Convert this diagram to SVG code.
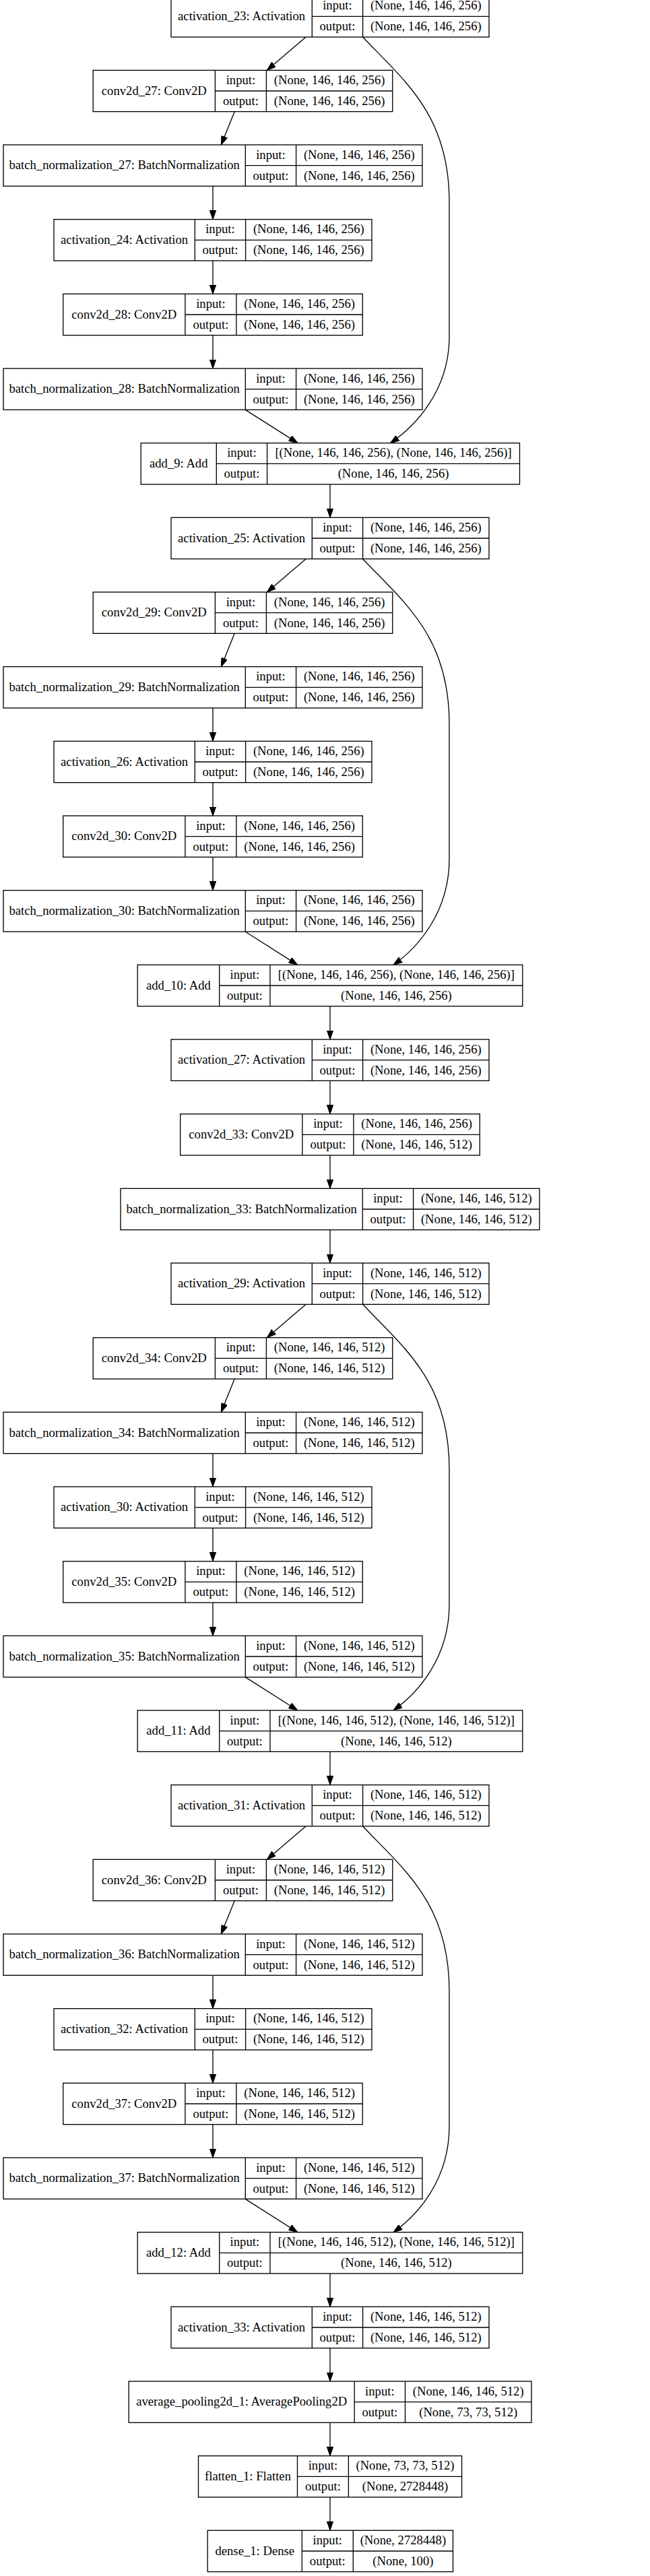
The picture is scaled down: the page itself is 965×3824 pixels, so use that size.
<svg xmlns="http://www.w3.org/2000/svg" width="965" height="3824" viewBox="0 0 965 3824">
<defs>
<style>
.f{fill:#fff;stroke:#000;stroke-width:1.33}
.d{fill:none;stroke:#000;stroke-width:1.33}
.e{fill:none;stroke:#000;stroke-width:1.33;marker-end:url(#ah)}
text{font-family:"Liberation Serif","Times New Roman",serif;font-size:18.67px;text-anchor:middle;fill:#000}
</style>
<marker id="ah" markerUnits="userSpaceOnUse" viewBox="0 0 13.33 9.33" markerWidth="13.33" markerHeight="9.33" refX="13.33" refY="4.67" orient="auto"><path d="M0,0 L13.33,4.67 L0,9.33 z" fill="#000" stroke="#000" stroke-width="1"/></marker>
</defs>
<rect x="0" y="0" width="965" height="3824" fill="#fff"/>

<g id="edges">
<path class="e" d="M454.1,55L396.4,104.33"/>
<path class="e" d="M348.2,165.67L328.3,215"/>
<path class="e" d="M316,276.33V325.67"/>
<path class="e" d="M316,387V436.33"/>
<path class="e" d="M316,497.67V547"/>
<path class="e" d="M364.3,608.33L442,657.67"/>
<path class="e" d="M538.6,55C600,120 667,170 667,300L667,500C667,580 616,633 579.5,657.67"/>
<path class="e" d="M490,719V768.33"/>
<path class="e" d="M454.1,829.67L396.4,879"/>
<path class="e" d="M348.2,940.33L328.3,989.67"/>
<path class="e" d="M316,1051V1100.33"/>
<path class="e" d="M316,1161.67V1211"/>
<path class="e" d="M316,1272.33V1321.67"/>
<path class="e" d="M364.2,1383L441.8,1432.33"/>
<path class="e" d="M538.6,829.67C600,894.67 667,944.67 667,1074.67L667,1274.67C667,1354.67 620,1407 584,1432.33"/>
<path class="e" d="M490,1493.67V1543"/>
<path class="e" d="M490,1604.33V1653.67"/>
<path class="e" d="M490,1715V1764.33"/>
<path class="e" d="M490,1825.67V1875"/>
<path class="e" d="M454.1,1936.33L396.4,1985.67"/>
<path class="e" d="M348.2,2047L328.3,2096.33"/>
<path class="e" d="M316,2157.67V2207"/>
<path class="e" d="M316,2268.33V2317.67"/>
<path class="e" d="M316,2379V2428.33"/>
<path class="e" d="M364.2,2489.67L441.8,2539"/>
<path class="e" d="M538.6,1936.33C600,2001.33 667,2051.33 667,2181.33L667,2381.33C667,2461.33 620,2513.67 584,2539"/>
<path class="e" d="M490,2600.33V2649.67"/>
<path class="e" d="M454.1,2711L396.4,2760.33"/>
<path class="e" d="M348.2,2821.67L328.3,2871"/>
<path class="e" d="M316,2932.33V2981.67"/>
<path class="e" d="M316,3043V3092.33"/>
<path class="e" d="M316,3153.67V3203"/>
<path class="e" d="M364.2,3264.33L441.8,3313.67"/>
<path class="e" d="M538.6,2711C600,2776 667,2826 667,2956L667,3156C667,3236 620,3288.33 584,3313.67"/>
<path class="e" d="M490,3375V3424.33"/>
<path class="e" d="M490,3485.67V3535"/>
<path class="e" d="M490,3596.33V3645.67"/>
<path class="e" d="M490,3707V3756.33"/>
</g>

<g id="activation_23" transform="translate(0,-6.33)">
<rect class="f" x="254" y="0" width="472" height="61.33"/><path class="d" d="M463.3,0V61.33M538.6,0V61.33M463.3,30.67H726"/>
<text x="358.65" y="36.2">activation_23: Activation</text><text x="500.95" y="20.8">input:</text><text x="500.95" y="51.5">output:</text>
<text x="632.3" y="20.8">(None, 146, 146, 256)</text><text x="632.3" y="51.5">(None, 146, 146, 256)</text>
</g>
<g id="conv2d_27" transform="translate(0,104.33)">
<rect class="f" x="138.2" y="0" width="444.6" height="61.33"/><path class="d" d="M319.4,0V61.33M395.4,0V61.33M319.4,30.67H582.8"/>
<text x="228.8" y="36.2">conv2d_27: Conv2D</text><text x="357.4" y="20.8">input:</text><text x="357.4" y="51.5">output:</text>
<text x="489.1" y="20.8">(None, 146, 146, 256)</text><text x="489.1" y="51.5">(None, 146, 146, 256)</text>
</g>
<g id="batch_normalization_27" transform="translate(0,215)">
<rect class="f" x="5" y="0" width="622" height="61.33"/><path class="d" d="M364.3,0V61.33M439.6,0V61.33M364.3,30.67H627"/>
<text x="184.65" y="36.2">batch_normalization_27: BatchNormalization</text><text x="401.95" y="20.8">input:</text><text x="401.95" y="51.5">output:</text>
<text x="533.3" y="20.8">(None, 146, 146, 256)</text><text x="533.3" y="51.5">(None, 146, 146, 256)</text>
</g>
<g id="activation_24" transform="translate(0,325.67)">
<rect class="f" x="80" y="0" width="472" height="61.33"/><path class="d" d="M289.3,0V61.33M364.6,0V61.33M289.3,30.67H552"/>
<text x="184.65" y="36.2">activation_24: Activation</text><text x="326.95" y="20.8">input:</text><text x="326.95" y="51.5">output:</text>
<text x="458.3" y="20.8">(None, 146, 146, 256)</text><text x="458.3" y="51.5">(None, 146, 146, 256)</text>
</g>
<g id="conv2d_28" transform="translate(0,436.33)">
<rect class="f" x="93.7" y="0" width="444.6" height="61.33"/><path class="d" d="M274.9,0V61.33M350.9,0V61.33M274.9,30.67H538.3"/>
<text x="184.3" y="36.2">conv2d_28: Conv2D</text><text x="312.9" y="20.8">input:</text><text x="312.9" y="51.5">output:</text>
<text x="444.6" y="20.8">(None, 146, 146, 256)</text><text x="444.6" y="51.5">(None, 146, 146, 256)</text>
</g>
<g id="batch_normalization_28" transform="translate(0,547)">
<rect class="f" x="5" y="0" width="622" height="61.33"/><path class="d" d="M364.3,0V61.33M439.6,0V61.33M364.3,30.67H627"/>
<text x="184.65" y="36.2">batch_normalization_28: BatchNormalization</text><text x="401.95" y="20.8">input:</text><text x="401.95" y="51.5">output:</text>
<text x="533.3" y="20.8">(None, 146, 146, 256)</text><text x="533.3" y="51.5">(None, 146, 146, 256)</text>
</g>
<g id="add_9" transform="translate(0,657.67)">
<rect class="f" x="209.2" y="0" width="562.3" height="61.33"/><path class="d" d="M321.3,0V61.33M396.6,0V61.33M321.3,30.67H771.5"/>
<text x="265.25" y="36.2">add_9: Add</text><text x="358.95" y="20.8">input:</text><text x="358.95" y="51.5">output:</text>
<text x="584.05" y="20.8">[(None, 146, 146, 256), (None, 146, 146, 256)]</text><text x="584.05" y="51.5">(None, 146, 146, 256)</text>
</g>
<g id="activation_25" transform="translate(0,768.33)">
<rect class="f" x="254" y="0" width="472" height="61.33"/><path class="d" d="M463.3,0V61.33M538.6,0V61.33M463.3,30.67H726"/>
<text x="358.65" y="36.2">activation_25: Activation</text><text x="500.95" y="20.8">input:</text><text x="500.95" y="51.5">output:</text>
<text x="632.3" y="20.8">(None, 146, 146, 256)</text><text x="632.3" y="51.5">(None, 146, 146, 256)</text>
</g>
<g id="conv2d_29" transform="translate(0,879)">
<rect class="f" x="138.2" y="0" width="444.6" height="61.33"/><path class="d" d="M319.4,0V61.33M395.4,0V61.33M319.4,30.67H582.8"/>
<text x="228.8" y="36.2">conv2d_29: Conv2D</text><text x="357.4" y="20.8">input:</text><text x="357.4" y="51.5">output:</text>
<text x="489.1" y="20.8">(None, 146, 146, 256)</text><text x="489.1" y="51.5">(None, 146, 146, 256)</text>
</g>
<g id="batch_normalization_29" transform="translate(0,989.67)">
<rect class="f" x="5" y="0" width="622" height="61.33"/><path class="d" d="M364.3,0V61.33M439.6,0V61.33M364.3,30.67H627"/>
<text x="184.65" y="36.2">batch_normalization_29: BatchNormalization</text><text x="401.95" y="20.8">input:</text><text x="401.95" y="51.5">output:</text>
<text x="533.3" y="20.8">(None, 146, 146, 256)</text><text x="533.3" y="51.5">(None, 146, 146, 256)</text>
</g>
<g id="activation_26" transform="translate(0,1100.33)">
<rect class="f" x="80" y="0" width="472" height="61.33"/><path class="d" d="M289.3,0V61.33M364.6,0V61.33M289.3,30.67H552"/>
<text x="184.65" y="36.2">activation_26: Activation</text><text x="326.95" y="20.8">input:</text><text x="326.95" y="51.5">output:</text>
<text x="458.3" y="20.8">(None, 146, 146, 256)</text><text x="458.3" y="51.5">(None, 146, 146, 256)</text>
</g>
<g id="conv2d_30" transform="translate(0,1211)">
<rect class="f" x="93.7" y="0" width="444.6" height="61.33"/><path class="d" d="M274.9,0V61.33M350.9,0V61.33M274.9,30.67H538.3"/>
<text x="184.3" y="36.2">conv2d_30: Conv2D</text><text x="312.9" y="20.8">input:</text><text x="312.9" y="51.5">output:</text>
<text x="444.6" y="20.8">(None, 146, 146, 256)</text><text x="444.6" y="51.5">(None, 146, 146, 256)</text>
</g>
<g id="batch_normalization_30" transform="translate(0,1321.67)">
<rect class="f" x="5" y="0" width="622" height="61.33"/><path class="d" d="M364.3,0V61.33M439.6,0V61.33M364.3,30.67H627"/>
<text x="184.65" y="36.2">batch_normalization_30: BatchNormalization</text><text x="401.95" y="20.8">input:</text><text x="401.95" y="51.5">output:</text>
<text x="533.3" y="20.8">(None, 146, 146, 256)</text><text x="533.3" y="51.5">(None, 146, 146, 256)</text>
</g>
<g id="add_10" transform="translate(0,1432.33)">
<rect class="f" x="204.2" y="0" width="571.6" height="61.33"/><path class="d" d="M325.7,0V61.33M401,0V61.33M325.7,30.67H775.8"/>
<text x="264.95" y="36.2">add_10: Add</text><text x="363.35" y="20.8">input:</text><text x="363.35" y="51.5">output:</text>
<text x="588.4" y="20.8">[(None, 146, 146, 256), (None, 146, 146, 256)]</text><text x="588.4" y="51.5">(None, 146, 146, 256)</text>
</g>
<g id="activation_27" transform="translate(0,1543)">
<rect class="f" x="254" y="0" width="472" height="61.33"/><path class="d" d="M463.3,0V61.33M538.6,0V61.33M463.3,30.67H726"/>
<text x="358.65" y="36.2">activation_27: Activation</text><text x="500.95" y="20.8">input:</text><text x="500.95" y="51.5">output:</text>
<text x="632.3" y="20.8">(None, 146, 146, 256)</text><text x="632.3" y="51.5">(None, 146, 146, 256)</text>
</g>
<g id="conv2d_33" transform="translate(0,1653.67)">
<rect class="f" x="267.7" y="0" width="444.6" height="61.33"/><path class="d" d="M448.9,0V61.33M524.9,0V61.33M448.9,30.67H712.3"/>
<text x="358.3" y="36.2">conv2d_33: Conv2D</text><text x="486.9" y="20.8">input:</text><text x="486.9" y="51.5">output:</text>
<text x="618.6" y="20.8">(None, 146, 146, 256)</text><text x="618.6" y="51.5">(None, 146, 146, 512)</text>
</g>
<g id="batch_normalization_33" transform="translate(0,1764.33)">
<rect class="f" x="179" y="0" width="622" height="61.33"/><path class="d" d="M538.3,0V61.33M613.6,0V61.33M538.3,30.67H801"/>
<text x="358.65" y="36.2">batch_normalization_33: BatchNormalization</text><text x="575.95" y="20.8">input:</text><text x="575.95" y="51.5">output:</text>
<text x="707.3" y="20.8">(None, 146, 146, 512)</text><text x="707.3" y="51.5">(None, 146, 146, 512)</text>
</g>
<g id="activation_29" transform="translate(0,1875)">
<rect class="f" x="254" y="0" width="472" height="61.33"/><path class="d" d="M463.3,0V61.33M538.6,0V61.33M463.3,30.67H726"/>
<text x="358.65" y="36.2">activation_29: Activation</text><text x="500.95" y="20.8">input:</text><text x="500.95" y="51.5">output:</text>
<text x="632.3" y="20.8">(None, 146, 146, 512)</text><text x="632.3" y="51.5">(None, 146, 146, 512)</text>
</g>
<g id="conv2d_34" transform="translate(0,1985.67)">
<rect class="f" x="138.2" y="0" width="444.6" height="61.33"/><path class="d" d="M319.4,0V61.33M395.4,0V61.33M319.4,30.67H582.8"/>
<text x="228.8" y="36.2">conv2d_34: Conv2D</text><text x="357.4" y="20.8">input:</text><text x="357.4" y="51.5">output:</text>
<text x="489.1" y="20.8">(None, 146, 146, 512)</text><text x="489.1" y="51.5">(None, 146, 146, 512)</text>
</g>
<g id="batch_normalization_34" transform="translate(0,2096.33)">
<rect class="f" x="5" y="0" width="622" height="61.33"/><path class="d" d="M364.3,0V61.33M439.6,0V61.33M364.3,30.67H627"/>
<text x="184.65" y="36.2">batch_normalization_34: BatchNormalization</text><text x="401.95" y="20.8">input:</text><text x="401.95" y="51.5">output:</text>
<text x="533.3" y="20.8">(None, 146, 146, 512)</text><text x="533.3" y="51.5">(None, 146, 146, 512)</text>
</g>
<g id="activation_30" transform="translate(0,2207)">
<rect class="f" x="80" y="0" width="472" height="61.33"/><path class="d" d="M289.3,0V61.33M364.6,0V61.33M289.3,30.67H552"/>
<text x="184.65" y="36.2">activation_30: Activation</text><text x="326.95" y="20.8">input:</text><text x="326.95" y="51.5">output:</text>
<text x="458.3" y="20.8">(None, 146, 146, 512)</text><text x="458.3" y="51.5">(None, 146, 146, 512)</text>
</g>
<g id="conv2d_35" transform="translate(0,2317.67)">
<rect class="f" x="93.7" y="0" width="444.6" height="61.33"/><path class="d" d="M274.9,0V61.33M350.9,0V61.33M274.9,30.67H538.3"/>
<text x="184.3" y="36.2">conv2d_35: Conv2D</text><text x="312.9" y="20.8">input:</text><text x="312.9" y="51.5">output:</text>
<text x="444.6" y="20.8">(None, 146, 146, 512)</text><text x="444.6" y="51.5">(None, 146, 146, 512)</text>
</g>
<g id="batch_normalization_35" transform="translate(0,2428.33)">
<rect class="f" x="5" y="0" width="622" height="61.33"/><path class="d" d="M364.3,0V61.33M439.6,0V61.33M364.3,30.67H627"/>
<text x="184.65" y="36.2">batch_normalization_35: BatchNormalization</text><text x="401.95" y="20.8">input:</text><text x="401.95" y="51.5">output:</text>
<text x="533.3" y="20.8">(None, 146, 146, 512)</text><text x="533.3" y="51.5">(None, 146, 146, 512)</text>
</g>
<g id="add_11" transform="translate(0,2539)">
<rect class="f" x="204.2" y="0" width="571.6" height="61.33"/><path class="d" d="M325.7,0V61.33M401,0V61.33M325.7,30.67H775.8"/>
<text x="264.95" y="36.2">add_11: Add</text><text x="363.35" y="20.8">input:</text><text x="363.35" y="51.5">output:</text>
<text x="588.4" y="20.8">[(None, 146, 146, 512), (None, 146, 146, 512)]</text><text x="588.4" y="51.5">(None, 146, 146, 512)</text>
</g>
<g id="activation_31" transform="translate(0,2649.67)">
<rect class="f" x="254" y="0" width="472" height="61.33"/><path class="d" d="M463.3,0V61.33M538.6,0V61.33M463.3,30.67H726"/>
<text x="358.65" y="36.2">activation_31: Activation</text><text x="500.95" y="20.8">input:</text><text x="500.95" y="51.5">output:</text>
<text x="632.3" y="20.8">(None, 146, 146, 512)</text><text x="632.3" y="51.5">(None, 146, 146, 512)</text>
</g>
<g id="conv2d_36" transform="translate(0,2760.33)">
<rect class="f" x="138.2" y="0" width="444.6" height="61.33"/><path class="d" d="M319.4,0V61.33M395.4,0V61.33M319.4,30.67H582.8"/>
<text x="228.8" y="36.2">conv2d_36: Conv2D</text><text x="357.4" y="20.8">input:</text><text x="357.4" y="51.5">output:</text>
<text x="489.1" y="20.8">(None, 146, 146, 512)</text><text x="489.1" y="51.5">(None, 146, 146, 512)</text>
</g>
<g id="batch_normalization_36" transform="translate(0,2871)">
<rect class="f" x="5" y="0" width="622" height="61.33"/><path class="d" d="M364.3,0V61.33M439.6,0V61.33M364.3,30.67H627"/>
<text x="184.65" y="36.2">batch_normalization_36: BatchNormalization</text><text x="401.95" y="20.8">input:</text><text x="401.95" y="51.5">output:</text>
<text x="533.3" y="20.8">(None, 146, 146, 512)</text><text x="533.3" y="51.5">(None, 146, 146, 512)</text>
</g>
<g id="activation_32" transform="translate(0,2981.67)">
<rect class="f" x="80" y="0" width="472" height="61.33"/><path class="d" d="M289.3,0V61.33M364.6,0V61.33M289.3,30.67H552"/>
<text x="184.65" y="36.2">activation_32: Activation</text><text x="326.95" y="20.8">input:</text><text x="326.95" y="51.5">output:</text>
<text x="458.3" y="20.8">(None, 146, 146, 512)</text><text x="458.3" y="51.5">(None, 146, 146, 512)</text>
</g>
<g id="conv2d_37" transform="translate(0,3092.33)">
<rect class="f" x="93.7" y="0" width="444.6" height="61.33"/><path class="d" d="M274.9,0V61.33M350.9,0V61.33M274.9,30.67H538.3"/>
<text x="184.3" y="36.2">conv2d_37: Conv2D</text><text x="312.9" y="20.8">input:</text><text x="312.9" y="51.5">output:</text>
<text x="444.6" y="20.8">(None, 146, 146, 512)</text><text x="444.6" y="51.5">(None, 146, 146, 512)</text>
</g>
<g id="batch_normalization_37" transform="translate(0,3203)">
<rect class="f" x="5" y="0" width="622" height="61.33"/><path class="d" d="M364.3,0V61.33M439.6,0V61.33M364.3,30.67H627"/>
<text x="184.65" y="36.2">batch_normalization_37: BatchNormalization</text><text x="401.95" y="20.8">input:</text><text x="401.95" y="51.5">output:</text>
<text x="533.3" y="20.8">(None, 146, 146, 512)</text><text x="533.3" y="51.5">(None, 146, 146, 512)</text>
</g>
<g id="add_12" transform="translate(0,3313.67)">
<rect class="f" x="204.2" y="0" width="571.6" height="61.33"/><path class="d" d="M325.7,0V61.33M401,0V61.33M325.7,30.67H775.8"/>
<text x="264.95" y="36.2">add_12: Add</text><text x="363.35" y="20.8">input:</text><text x="363.35" y="51.5">output:</text>
<text x="588.4" y="20.8">[(None, 146, 146, 512), (None, 146, 146, 512)]</text><text x="588.4" y="51.5">(None, 146, 146, 512)</text>
</g>
<g id="activation_33" transform="translate(0,3424.33)">
<rect class="f" x="254" y="0" width="472" height="61.33"/><path class="d" d="M463.3,0V61.33M538.6,0V61.33M463.3,30.67H726"/>
<text x="358.65" y="36.2">activation_33: Activation</text><text x="500.95" y="20.8">input:</text><text x="500.95" y="51.5">output:</text>
<text x="632.3" y="20.8">(None, 146, 146, 512)</text><text x="632.3" y="51.5">(None, 146, 146, 512)</text>
</g>
<g id="average_pooling2d_1" transform="translate(0,3535)">
<rect class="f" x="191.2" y="0" width="597.8" height="61.33"/><path class="d" d="M526.2,0V61.33M601.5,0V61.33M526.2,30.67H789"/>
<text x="358.7" y="36.2">average_pooling2d_1: AveragePooling2D</text><text x="563.85" y="20.8">input:</text><text x="563.85" y="51.5">output:</text>
<text x="695.25" y="20.8">(None, 146, 146, 512)</text><text x="695.25" y="51.5">(None, 73, 73, 512)</text>
</g>
<g id="flatten_1" transform="translate(0,3645.67)">
<rect class="f" x="294.5" y="0" width="391.1" height="61.33"/><path class="d" d="M441.5,0V61.33M517.4,0V61.33M441.5,30.67H685.6"/>
<text x="368" y="36.2">flatten_1: Flatten</text><text x="479.45" y="20.8">input:</text><text x="479.45" y="51.5">output:</text>
<text x="601.5" y="20.8">(None, 73, 73, 512)</text><text x="601.5" y="51.5">(None, 2728448)</text>
</g>
<g id="dense_1" transform="translate(0,3756.33)">
<rect class="f" x="308.2" y="0" width="364.3" height="61.33"/><path class="d" d="M448.3,0V61.33M524.3,0V61.33M448.3,30.67H672.5"/>
<text x="378.25" y="36.2">dense_1: Dense</text><text x="486.3" y="20.8">input:</text><text x="486.3" y="51.5">output:</text>
<text x="598.4" y="20.8">(None, 2728448)</text><text x="598.4" y="51.5">(None, 100)</text>
</g>
</svg>
